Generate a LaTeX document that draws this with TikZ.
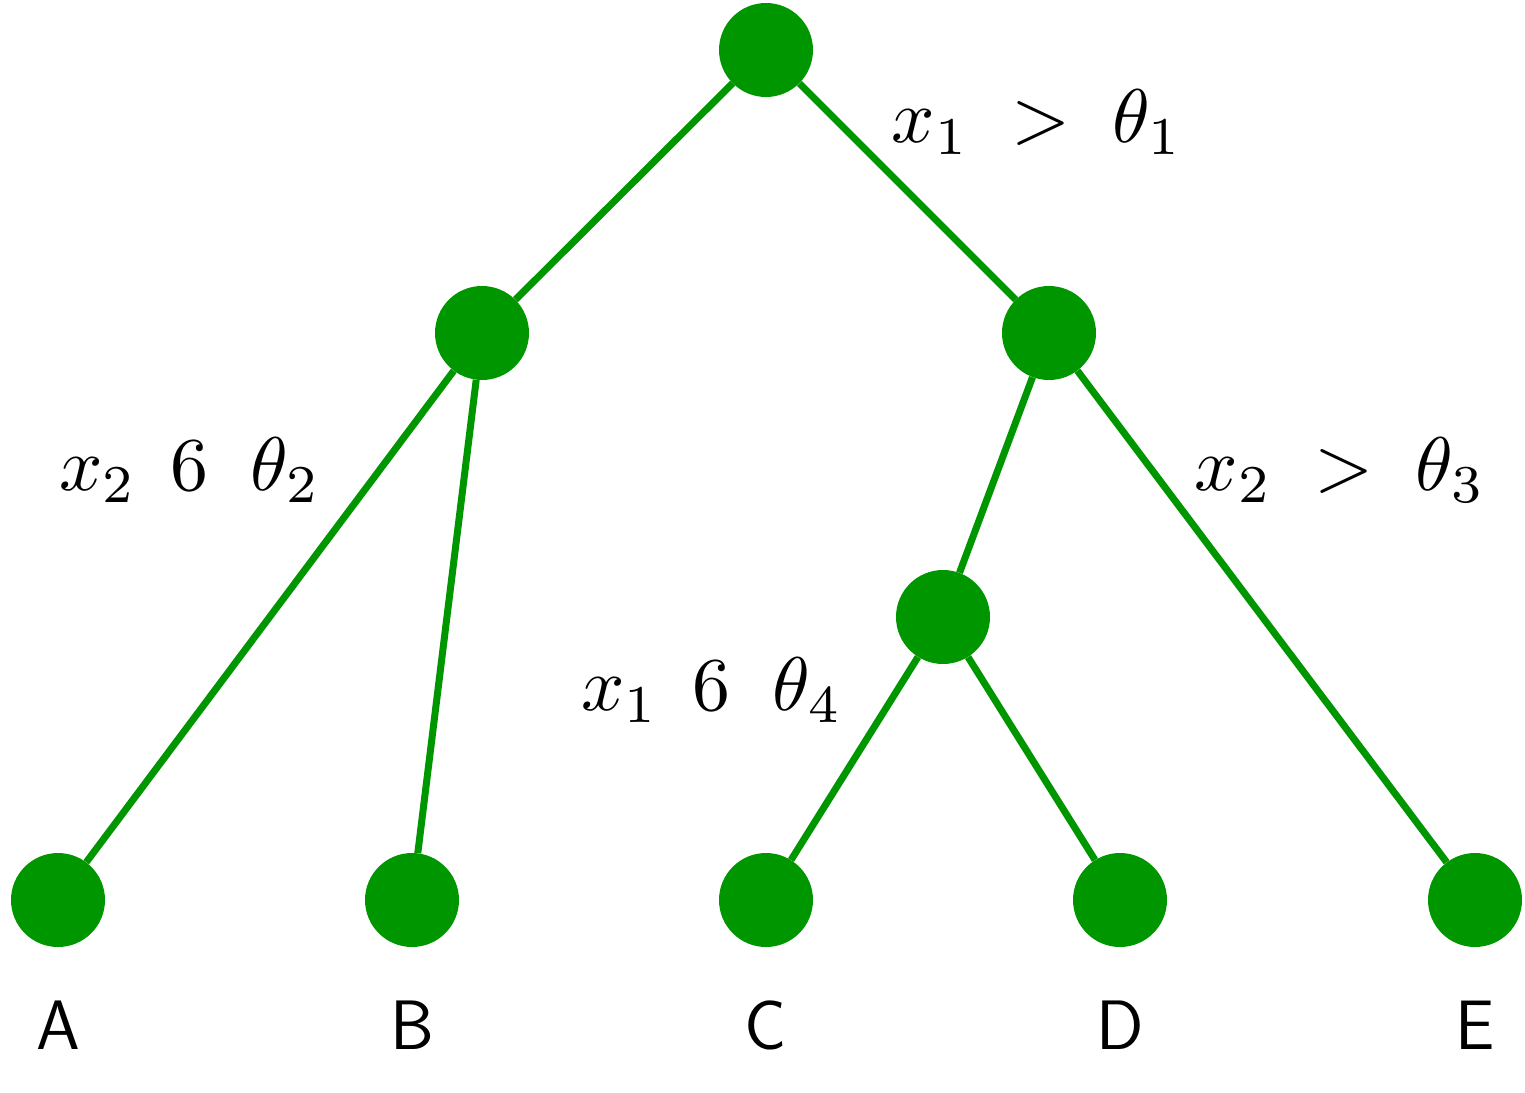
\documentclass[tikz,border=0pt]{standalone}
\usetikzlibrary{positioning}
\definecolor{treegreen}{RGB}{0,150,0}
\newcommand{\cond}[1]{\scalebox{7.6}{$#1$}}
\begin{document}
\begin{tikzpicture}[
    x=1pt,
    y=-1pt,
    vert/.style={circle, fill=treegreen, minimum size=94pt, inner sep=0pt},
    branch/.style={draw=treegreen, line width=7pt},
    leaf/.style={font=\fontsize{70}{76}\selectfont\sffamily}
]
    \useasboundingbox (0,0) rectangle (1525,1092);
    \node[vert] (root) at (766,50) {};
    \node[vert] (l1) at (482,333) {};
    \node[vert] (r1) at (1049,333) {};
    \node[vert] (m) at (943,617) {};
    \node[vert] (a) at (58,900) {};
    \node[vert] (b) at (412,900) {};
    \node[vert] (c) at (766,900) {};
    \node[vert] (d) at (1120,900) {};
    \node[vert] (e) at (1475,900) {};

    \draw[branch] (root) -- (l1);
    \draw[branch] (root) -- (r1);
    \draw[branch] (l1) -- (a);
    \draw[branch] (l1) -- (b);
    \draw[branch] (r1) -- (m);
    \draw[branch] (r1) -- (e);
    \draw[branch] (m) -- (c);
    \draw[branch] (m) -- (d);

    \node[leaf, below=125pt of a.center, anchor=center] (la) {A};
    \node[leaf, below=125pt of b.center, anchor=center] (lb) {B};
    \node[leaf, below=125pt of c.center, anchor=center] (lc) {C};
    \node[leaf, below=125pt of d.center, anchor=center] (ld) {D};
    \node[leaf, below=125pt of e.center, anchor=center] (le) {E};

    \node (t1) at (1037,122) {\cond{x_1\;>\;\theta_1}};
    \node (t2) at (190,470) {\cond{x_2\;\,6\;\;\theta_2}};
    \node (t3) at (1340,470) {\cond{x_2\;>\;\theta_3}};
    \node (t4) at (712,690) {\cond{x_1\;\,6\;\;\theta_4}};
\end{tikzpicture}
\end{document}
